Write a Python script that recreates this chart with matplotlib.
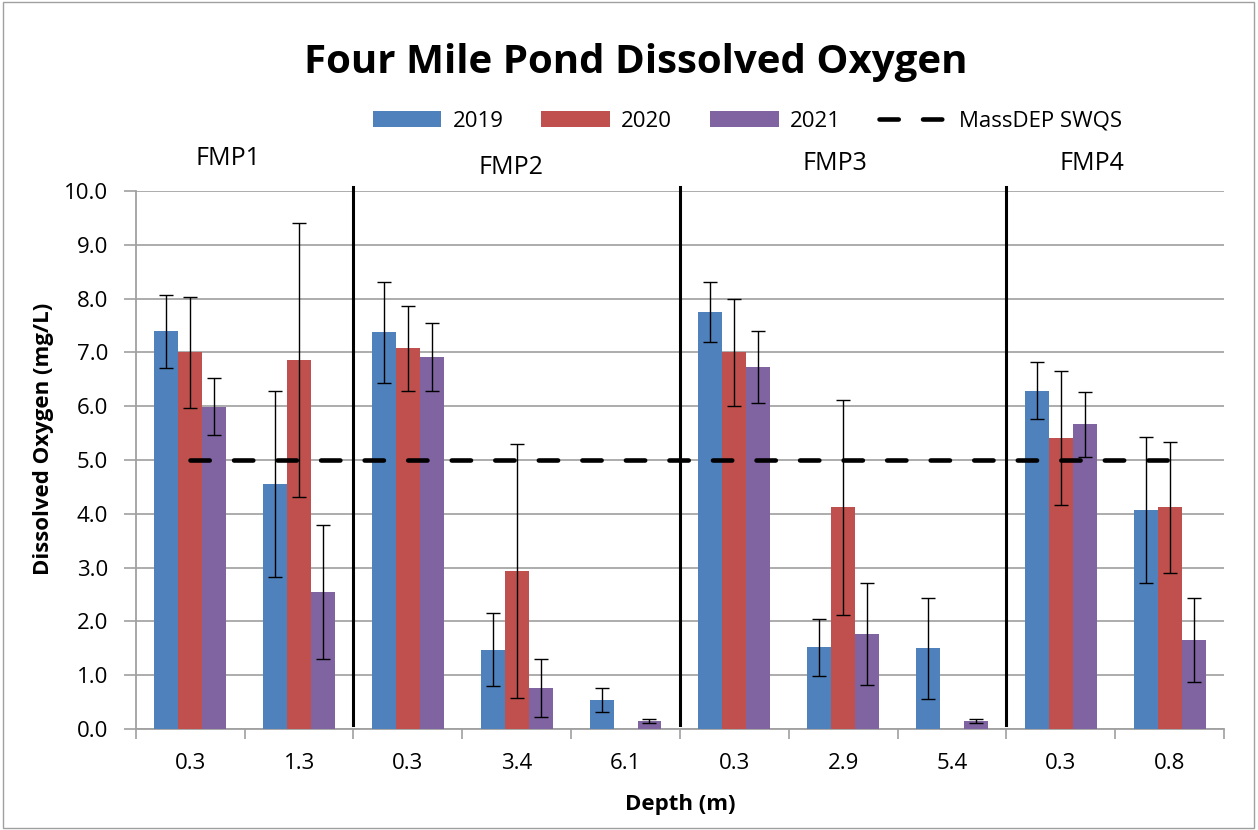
import numpy as np
import matplotlib
matplotlib.use("Agg")
import matplotlib.pyplot as plt
from matplotlib.patches import Rectangle

# data
depths = ["0.3", "1.3", "0.3", "3.4", "6.1", "0.3", "2.9", "5.4", "0.3", "0.8"]
sites = ["FMP1", "FMP2", "FMP3", "FMP4"]
site_x = [0.35, 2.95, 5.92, 8.29]
site_y = [10.61, 10.43, 10.52, 10.52]
years = ["2019", "2020", "2021"]

do_2019 = [7.39, 4.55, 7.37, 1.47, 0.54, 7.75, 1.52, 1.50, 6.29, 4.07]
do_2020 = [7.00, 6.86, 7.08, 2.93, np.nan, 7.00, 4.12, np.nan, 5.41, 4.12]
do_2021 = [5.99, 2.55, 6.92, 0.76, 0.15, 6.72, 1.77, 0.15, 5.66, 1.66]

sd_2019 = [0.68, 1.73, 0.94, 0.68, 0.22, 0.55, 0.53, 0.94, 0.53, 1.35]
sd_2020 = [1.03, 2.54, 0.79, 2.36, np.nan, 1.00, 2.00, np.nan, 1.25, 1.22]
sd_2021 = [0.53, 1.24, 0.63, 0.54, 0.03, 0.67, 0.95, 0.04, 0.60, 0.78]

swqs = [5.0] * len(depths)

colors = ["#4F81BD", "#C0504D", "#8064A2"]
values = [do_2019, do_2020, do_2021]
errors = [sd_2019, sd_2020, sd_2021]

plt.rcParams['font.family'] = ['Open Sans', 'DejaVu Sans']

fig = plt.figure(figsize=(12.58, 8.3), dpi=100)
ax = fig.add_axes([0.108, 0.1217, 0.865, 0.6482])

x = np.arange(len(depths))
w = 0.22
for i in range(3):
    ax.bar(x + (i - 1) * w, values[i], w, color=colors[i], label=years[i],
           yerr=errors[i], capsize=5,
           error_kw=dict(elinewidth=1, capthick=1, ecolor="black"), zorder=3)

ax.plot(x, swqs, color="black", lw=3.3, linestyle=(0, (4.2, 5.3)),
        dash_capstyle="round", label="MassDEP SWQS", zorder=4)

# separators between sites
for s in [2, 5, 8]:
    ax.plot([s - 0.5, s - 0.5], [0.07, 10.07], color="black", lw=2.2,
            clip_on=False, zorder=5)

for name, sx, sy in zip(sites, site_x, site_y):
    ax.text(sx, sy, name, ha="center", va="center", fontsize=18)

ax.set_xlim(-0.5, len(depths) - 0.5)
ax.set_ylim(0, 10)
ax.set_yticks(np.arange(0, 10.01, 1))
ax.set_yticklabels([f"{v:.1f}" for v in np.arange(0, 10.01, 1)], fontsize=16)
ax.set_xticks(x)
ax.set_xticklabels(depths, fontsize=16)
ax.set_xticks(np.arange(-0.5, len(depths), 1), minor=True)
ax.tick_params(axis="x", which="major", length=0, pad=17)
ax.tick_params(axis="x", which="minor", length=7, color="#A0A0A0", width=1.2)
ax.tick_params(axis="y", length=9, color="#A0A0A0", width=1.2, pad=11)

ax.grid(axis="y", color="#A6A6A6", lw=1.3, zorder=0)
ax.set_axisbelow(True)
for sp in ["top", "right"]:
    ax.spines[sp].set_visible(False)
for sp in ["left", "bottom"]:
    ax.spines[sp].set_color("#A0A0A0")
    ax.spines[sp].set_linewidth(1.3)

ax.set_xlabel("Depth (m)", fontsize=16, fontweight="bold")
ax.set_ylabel("Dissolved Oxygen (mg/L)", fontsize=16, fontweight="bold")
ax.xaxis.set_label_coords(0.5, -0.12)
ax.yaxis.set_label_coords(-0.075, 0.539)

fig.text(0.505, 0.925, "Four Mile Pond Dissolved Oxygen", ha="center", va="center",
         fontsize=29, fontweight="bold")

h, l = ax.get_legend_handles_labels()
order = [1, 2, 3, 0]
fig.legend([h[k] for k in order], [l[k] for k in order], loc="center",
           bbox_to_anchor=(0.594, 0.854), ncol=4, frameon=False,
           fontsize=16, handlelength=3.1, handleheight=0.7, columnspacing=1.7,
           handletextpad=0.5)

fig.add_artist(Rectangle((0.002, 0.003), 0.995, 0.994, transform=fig.transFigure,
                         fill=False, edgecolor="#A0A0A0", lw=1))

fig.savefig("out.png", dpi=100)
